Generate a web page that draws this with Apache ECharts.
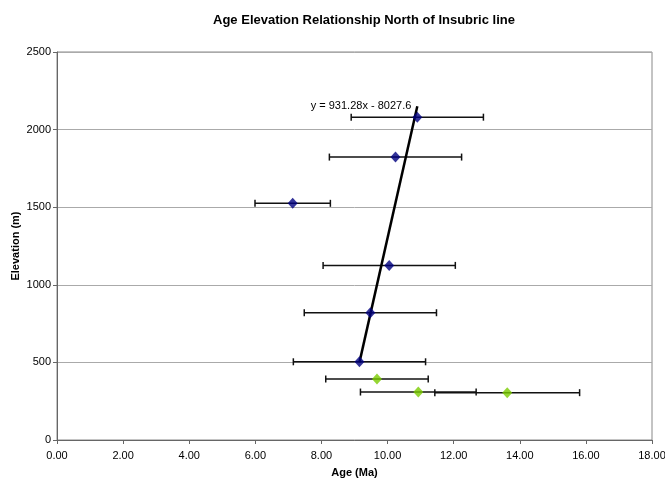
<!DOCTYPE html>
<html>
<head>
<meta charset="utf-8">
<script src="https://cdn.jsdelivr.net/npm/echarts@6/dist/echarts.min.js"></script>
<style>
  html, body { margin: 0; padding: 0; background: #fff; }
  #chart { width: 665px; height: 481px; }
</style>
</head>
<body>
<div id="chart"></div>
<script>
// values
var blueAge  = [10.90, 10.24, 7.13, 10.05, 9.48, 9.15];
var blueElev = [2080, 1823, 1525, 1125, 820, 504];
var blueErr  = [2.0, 2.0, 1.14, 2.0, 2.0, 2.0];

var greenAge  = [9.68, 10.93, 13.62];
var greenElev = [393, 309, 305];
var greenErr  = [1.55, 1.75, 2.19];

// trend line end points, and its label
var trendPts = [[9.15, 500], [10.90, 2150]];
var trendText = 'y = 931.28x - 8027.6';

var xTicks = [0, 2, 4, 6, 8, 10, 12, 14, 16, 18];
var yTicks = [0, 500, 1000, 1500, 2000, 2500];

var font = 'Arial, "Liberation Sans", sans-serif';

function pts(ages, elevs) {
    return ages.map(function (a, i) { return [a, elevs[i]]; });
}
function bars(ages, elevs, errs) {
    return ages.map(function (a, i) { return [a - errs[i], a + errs[i], elevs[i]]; });
}

// horizontal error bar with end caps
function errorBar(params, api) {
    var y = api.value(2);
    var p0 = api.coord([api.value(0), y]);
    var p1 = api.coord([api.value(1), y]);
    var cap = 3.5;
    var st = { stroke: '#111', lineWidth: 1.5 };
    return {
        type: 'group',
        children: [
            { type: 'line', shape: { x1: p0[0], y1: p0[1], x2: p1[0], y2: p1[1] }, style: st },
            { type: 'line', shape: { x1: p0[0], y1: p0[1] - cap, x2: p0[0], y2: p0[1] + cap }, style: st },
            { type: 'line', shape: { x1: p1[0], y1: p1[1] - cap, x2: p1[0], y2: p1[1] + cap }, style: st }
        ]
    };
}

var myChart = echarts.init(document.getElementById('chart'), null, { renderer: 'canvas' });

var option = {
    backgroundColor: '#fff',
    animation: false,
    title: {
        text: 'Age Elevation Relationship North of Insubric line',
        left: 359,
        textAlign: 'center',
        top: 9,
        textStyle: { fontFamily: font, fontSize: 13, fontWeight: 'bold', color: '#000' }
    },
    grid: {
        left: 57, right: 13, top: 52, bottom: 41,
        outerBoundsMode: 'none',
        containLabel: false,
        show: true, borderColor: '#888', borderWidth: 1
    },
    xAxis: {
        type: 'value',
        min: 0, max: 18, interval: 2,
        name: 'Age (Ma)',
        nameLocation: 'middle',
        nameGap: 27,
        nameMoveOverlap: false,
        nameTextStyle: { fontFamily: font, fontSize: 11, fontWeight: 'bold', color: '#000' },
        axisLine: { show: true, lineStyle: { color: '#666', width: 1 } },
        axisTick: { show: true, length: 4, lineStyle: { color: '#666' } },
        axisLabel: {
            fontFamily: font, fontSize: 11, color: '#000', margin: 10,
            formatter: function (v) { return xTicks.indexOf(v) >= 0 ? v.toFixed(2) : ''; }
        },
        splitLine: { show: false }
    },
    yAxis: {
        type: 'value',
        min: 0, max: 2500, interval: 500,
        name: 'Elevation (m)',
        nameLocation: 'middle',
        nameGap: 36,
        nameMoveOverlap: false,
        nameTextStyle: { fontFamily: font, fontSize: 11, fontWeight: 'bold', color: '#000' },
        axisLine: { show: true, lineStyle: { color: '#666', width: 1 } },
        axisTick: { show: true, length: 4, lineStyle: { color: '#666' } },
        axisLabel: {
            fontFamily: font, fontSize: 11, color: '#000', margin: 6,
            formatter: function (v) { return yTicks.indexOf(v) >= 0 ? String(v) : ''; }
        },
        splitLine: { show: true, lineStyle: { color: '#aaa', width: 1 } }
    },
    series: [
        {
            type: 'custom',
            renderItem: errorBar,
            encode: { x: [0, 1], y: 2 },
            data: bars(blueAge, blueElev, blueErr),
            z: 2
        },
        {
            type: 'custom',
            renderItem: errorBar,
            encode: { x: [0, 1], y: 2 },
            data: bars(greenAge, greenElev, greenErr),
            z: 2
        },
        {
            type: 'line',
            data: trendPts,
            showSymbol: false,
            symbol: 'none',
            lineStyle: { color: '#000', width: 2.5 },
            silent: true,
            z: 3,
            markPoint: {
                symbol: 'circle', symbolSize: 0,
                label: {
                    show: true, position: 'left', distance: 6,
                    formatter: trendText,
                    fontFamily: font, fontSize: 11, color: '#000'
                },
                data: [{ coord: trendPts[1] }]
            }
        },
        {
            type: 'scatter',
            data: pts(blueAge, blueElev),
            symbol: 'diamond',
            symbolSize: [10, 11],
            itemStyle: { color: '#000080' },
            z: 4
        },
        {
            type: 'scatter',
            data: pts(greenAge, greenElev),
            symbol: 'diamond',
            symbolSize: [10, 11],
            itemStyle: { color: '#7acc00' },
            z: 4
        }
    ]
};
myChart.setOption(option);
</script>
</body>
</html>
